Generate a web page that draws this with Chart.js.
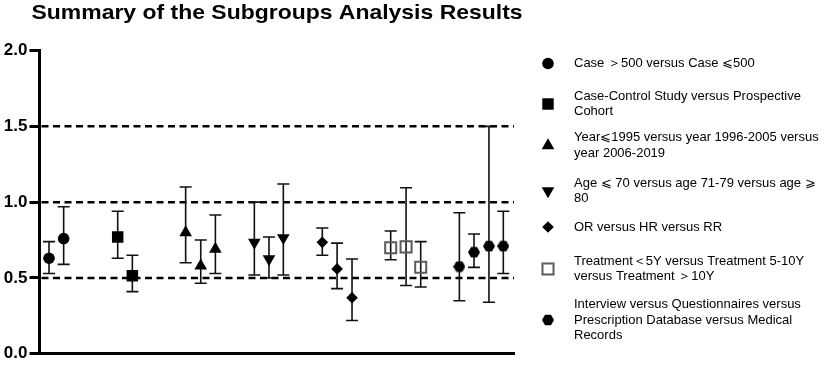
<!DOCTYPE html>
<html><head><meta charset="utf-8">
<script src="https://cdn.jsdelivr.net/npm/chart.js@4.4.1/dist/chart.umd.min.js"></script>
<style>html,body{margin:0;padding:0;background:#fff}#wrap{width:829px;height:366px}</style>
</head><body><div id="wrap"><canvas id="c" width="829" height="366"></canvas></div>
<script>
// ---------- data ----------
const titleText = 'Summary of the Subgroups Analysis Results';
const groupLabels = [
  ['Case \uFF1E500 versus Case \u2A7D500'],
  ['Case-Control Study versus Prospective', 'Cohort'],
  ['Year\u2A7D1995 versus year 1996-2005 versus', 'year 2006-2019'],
  ['Age \u2A7D 70 versus age 71-79 versus age \u2A7E', '80'],
  ['OR versus HR versus RR'],
  ['Treatment\uFF1C5Y versus Treatment 5-10Y', 'versus Treatment \uFF1E10Y'],
  ['Interview versus Questionnaires versus', 'Prescription Database versus Medical', 'Records']
];
const xPositions = [
  [0, 1],
  [4.69, 5.69],
  [9.33, 10.36, 11.36],
  [14.02, 15.02, 16.0],
  [18.66, 19.67, 20.69],
  [23.33, 24.38, 25.38],
  [28.02, 29.02, 30.04, 31.02]
];
const estimates = [
  [0.63, 0.76],
  [0.77, 0.515],
  [0.80, 0.58, 0.69],
  [0.735, 0.625, 0.765],
  [0.735, 0.56, 0.37],
  [0.70, 0.705, 0.57],
  [0.575, 0.67, 0.71, 0.71]
];
const lowerCI = [
  [0.53, 0.59],
  [0.63, 0.41],
  [0.60, 0.465, 0.53],
  [0.52, 0.50, 0.52],
  [0.65, 0.43, 0.22],
  [0.62, 0.45, 0.44],
  [0.35, 0.57, 0.34, 0.53]
];
const upperCI = [
  [0.74, 0.97],
  [0.94, 0.65],
  [1.10, 0.75, 0.915],
  [1.00, 0.77, 1.12],
  [0.83, 0.73, 0.625],
  [0.81, 1.095, 0.74],
  [0.93, 0.79, 1.50, 0.94]
];
const yTicks = [0, 0.5, 1.0, 1.5, 2.0];
const refLines = [0.5, 1.0, 1.5];

// ---------- styles ----------
function hexagon(size) {
  const cv = document.createElement('canvas');
  cv.width = size; cv.height = size;
  const g = cv.getContext('2d');
  const c = size / 2, R = size / 2;
  g.beginPath();
  for (let k = 0; k < 6; k++) {
    const a = Math.PI / 3 * k;
    const px = c + R * Math.cos(a), py = c + R * Math.sin(a);
    k ? g.lineTo(px, py) : g.moveTo(px, py);
  }
  g.closePath(); g.fillStyle = '#000'; g.fill();
  return cv;
}
const hexImg = hexagon(12);
const markerStyles = [
  {pointStyle: 'circle', radius: 5.8, rotation: 0, fill: '#000', stroke: '#000', borderWidth: 0},
  {pointStyle: 'rect', radius: 8.1, rotation: 0, fill: '#000', stroke: '#000', borderWidth: 0},
  {pointStyle: 'triangle', radius: 7.3, rotation: 0, fill: '#000', stroke: '#000', borderWidth: 0},
  {pointStyle: 'triangle', radius: 7.3, rotation: 180, fill: '#000', stroke: '#000', borderWidth: 0},
  {pointStyle: 'rectRot', radius: 5.8, rotation: 0, fill: '#000', stroke: '#000', borderWidth: 0},
  {pointStyle: 'rect', radius: 7.8, rotation: 0, fill: 'rgba(0,0,0,0)', stroke: '#5a5a5a', borderWidth: 2},
  {pointStyle: hexImg, radius: 6, rotation: 0, fill: '#000', stroke: '#000', borderWidth: 0}
];
const FONT = "Arial, 'Liberation Sans', Helvetica, sans-serif";
const legendCenters = [63.5, 104, 145.5, 191, 227, 269, 320];
const legendLineH = 15.7;

const refAndErrorBars = {
  id: 'refAndErrorBars',
  beforeDatasetsDraw(chart) {
    const {ctx, chartArea, scales: {x, y}} = chart;
    ctx.save();
    ctx.setLineDash([7, 4.5]);
    ctx.lineWidth = 2.5;
    ctx.strokeStyle = '#000';
    refLines.forEach(v => {
      const py = y.getPixelForValue(v);
      ctx.beginPath(); ctx.moveTo(chartArea.left + 2, py); ctx.lineTo(chartArea.right, py); ctx.stroke();
    });
    ctx.setLineDash([]);
    ctx.lineWidth = 1.6;
    ctx.strokeStyle = '#111';
    xPositions.forEach((xs, g) => xs.forEach((xv, i) => {
      const px = x.getPixelForValue(xv);
      const pl = y.getPixelForValue(lowerCI[g][i]);
      const ph = y.getPixelForValue(upperCI[g][i]);
      ctx.beginPath();
      ctx.moveTo(px, pl); ctx.lineTo(px, ph);
      ctx.moveTo(px - 6, pl); ctx.lineTo(px + 6, pl);
      ctx.moveTo(px - 6, ph); ctx.lineTo(px + 6, ph);
      ctx.stroke();
    }));
    ctx.restore();
  }
};

const titleAndLegend = {
  id: 'titleAndLegend',
  afterDraw(chart) {
    const ctx = chart.ctx;
    ctx.save();
    ctx.fillStyle = '#000';
    ctx.font = 'bold 21px ' + FONT;
    ctx.textBaseline = 'alphabetic';
    ctx.textAlign = 'left';
    ctx.save();
    ctx.translate(31.5, 18.5);
    ctx.scale(1.093, 1);
    ctx.fillText(titleText, 0, 0);
    ctx.restore();
    ctx.textBaseline = 'middle';
    groupLabels.forEach((lines, g) => {
      const st = markerStyles[g];
      const cy = legendCenters[g];
      ctx.fillStyle = st.fill; ctx.strokeStyle = st.stroke; ctx.lineWidth = st.borderWidth;
      Chart.helpers.drawPoint(ctx, {pointStyle: st.pointStyle, radius: st.radius, rotation: st.rotation, borderWidth: st.borderWidth}, 548, cy);
      ctx.fillStyle = '#000';
      ctx.font = '13px ' + FONT;
      const top = cy - (lines.length - 1) * legendLineH / 2;
      lines.forEach((t, k) => ctx.fillText(t, 574, top + k * legendLineH));
    });
    ctx.restore();
  }
};

const datasets = xPositions.map((xs, g) => {
  const st = markerStyles[g];
  return {
    label: groupLabels[g].join(' '),
    data: xs.map((xv, i) => ({x: xv, y: estimates[g][i]})),
    showLine: false,
    pointStyle: st.pointStyle,
    pointRadius: st.radius,
    pointRotation: st.rotation,
    backgroundColor: st.fill,
    borderColor: st.stroke,
    borderWidth: st.borderWidth,
    pointHoverRadius: st.radius
  };
});

new Chart(document.getElementById('c'), {
  type: 'scatter',
  data: {datasets},
  plugins: [refAndErrorBars, titleAndLegend],
  options: {
    responsive: false,
    devicePixelRatio: 1,
    animation: false,
    events: [],
    layout: {padding: {top: 50.5, left: 0, right: 315, bottom: 9.5}},
    plugins: {legend: {display: false}, title: {display: false}, tooltip: {enabled: false}},
    scales: {
      x: {
        type: 'linear', min: -0.65, max: 31.75,
        ticks: {display: false},
        grid: {display: false, drawTicks: false},
        border: {display: true, width: 3, color: '#000'},
        afterFit(s) { s.height = 0; }
      },
      y: {
        type: 'linear', min: 0, max: 2,
        afterBuildTicks(s) { s.ticks = yTicks.map(v => ({value: v})); },
        ticks: {
          callback: v => Number(v).toFixed(1),
          font: {family: FONT, size: 17, weight: 'bold'},
          color: '#000', padding: 2
        },
        grid: {display: true, drawOnChartArea: false, drawTicks: true, tickLength: 10, tickWidth: 3, tickColor: '#000'},
        border: {display: true, width: 3, color: '#000'},
        afterFit(s) { s.width = 39.5; }
      }
    }
  }
});
</script>
</body></html>
